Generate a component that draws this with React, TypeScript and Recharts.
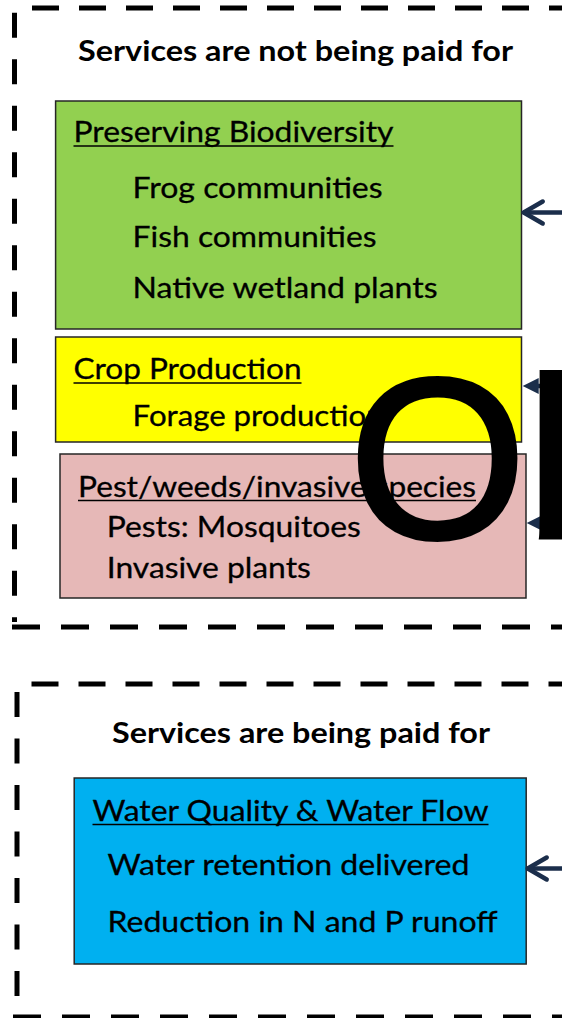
import { ComposedChart, XAxis, YAxis, ReferenceArea, ReferenceLine, Scatter } from "recharts";

const W = 562;
const H = 1018;

// ---- content ----
const groupTitles = ["Services are not being paid for", "Services are being paid for"];
const boxHeadings = [
  "Preserving Biodiversity",
  "Crop Production",
  "Pest/weeds/invasive species",
  "Water Quality & Water Flow",
];
const boxItems = [
  ["Frog communities", "Fish communities", "Native wetland plants"],
  ["Forage production"],
  ["Pests: Mosquitoes", "Invasive plants"],
  ["Water retention delivered", "Reduction in N and P runoff"],
];
const boxColors = ["#92D050", "#FFFF00", "#E6B8B7", "#00B0F0"];
const arrowKinds = ["chevron", "triangle", "triangle", "chevron"];
const overlayText = "Ob";

// ---- layout (pixel space of the hidden axes) ----
const groupLayout = [
  { left: 14.5, top: 8, bottom: 627, topStart: 32, bottomStart: 12, leftStart: 12.7, leftEnd: 622, title: { x: 78, y: 61, w: 435 } },
  { left: 17, top: 684, bottom: 1017, topStart: 31.5, bottomStart: 13, leftStart: 692, leftEnd: 1000, title: { x: 112, y: 743, w: 378 } },
];

const boxLayout = [
  { x1: 55.6, x2: 521.5, y1: 101, y2: 329, head: { x: 73.5, y: 142, w: 320 }, ix: 132.6, iy: [198, 247, 297.5], iw: [250, 244, 305], arrow: { x: 522.7, y: 212.5 } },
  { x1: 55.6, x2: 521.5, y1: 337, y2: 442, head: { x: 73.5, y: 379, w: 228 }, ix: 132.6, iy: [426], iw: [251], arrow: { x: 522.7, y: 386 } },
  { x1: 60, x2: 526, y1: 454, y2: 598, head: { x: 78, y: 496.5, w: 398 }, ix: 106.8, iy: [536.5, 578], iw: [254, 204], arrow: { x: 526.7, y: 523 } },
  { x1: 74.2, x2: 526.2, y1: 778, y2: 964, head: { x: 92.5, y: 820.5, w: 396 }, ix: 107.5, iy: [875, 931.5], iw: [362, 390], arrow: { x: 526.7, y: 868.5 } },
];

const BODY_FONT = "Lato, 'Open Sans', sans-serif";
const NAVY = "#1B2E4B";

type Label = { x: number; y: number; text: string; w: number; size: number; bold?: boolean; underline?: boolean };

const labels: Label[] = [];
groupTitles.forEach((t, i) => {
  const g = groupLayout[i].title;
  labels.push({ x: g.x, y: g.y, text: t, w: g.w, size: 29, bold: true });
});
boxHeadings.forEach((h, i) => {
  const b = boxLayout[i];
  labels.push({ x: b.head.x, y: b.head.y, text: h, w: b.head.w, size: 29, underline: true });
  boxItems[i].forEach((it, j) => {
    labels.push({ x: b.ix, y: b.iy[j], text: it, w: b.iw[j], size: 29 });
  });
});

const arrows = arrowKinds.map((k, i) => ({ x: boxLayout[i].arrow.x, y: boxLayout[i].arrow.y, kind: k }));
const overlay = [{ x: 349, y: 538, text: overlayText }];

function LabelShape(props: any) {
  const { cx, cy, payload } = props;
  return (
    <g>
      <text
        x={cx}
        y={cy}
        textLength={payload.w}
        lengthAdjust="spacingAndGlyphs"
        fontFamily={BODY_FONT}
        fontSize={payload.size}
        fontWeight={payload.bold ? 700 : 400}
        fill="#000"
        stroke="#000"
        strokeWidth={payload.bold ? 0 : 0.3}
      >
        {payload.text}
      </text>
      {payload.underline && (
        <line x1={cx} x2={cx + payload.w} y1={cy + 4} y2={cy + 4} stroke="#000" strokeWidth={1.6} />
      )}
    </g>
  );
}

function ArrowShape(props: any) {
  const { cx, cy, payload } = props;
  if (payload.kind === "chevron") {
    return (
      <g stroke={NAVY} strokeWidth={4.5} strokeLinecap="round" strokeLinejoin="round" fill="none">
        <line x1={cx + 2} y1={cy} x2={W + 10} y2={cy} />
        <polyline points={`${cx + 20},${cy - 11} ${cx + 1},${cy} ${cx + 20},${cy + 11}`} />
      </g>
    );
  }
  return (
    <g>
      <line x1={cx + 10} y1={cy} x2={W + 10} y2={cy} stroke={NAVY} strokeWidth={4.5} />
      <polygon points={`${cx},${cy} ${cx + 16},${cy - 8} ${cx + 16},${cy + 8}`} fill={NAVY} />
    </g>
  );
}

function OverlayShape(props: any) {
  const { cx, cy, payload } = props;
  return (
    <text
      x={cx}
      y={cy}
      fontFamily="'Liberation Sans', Arial, sans-serif"
      fontSize={228}
      fill="#000"
      stroke="#000"
      strokeWidth={4}
    >
      {payload.text}
    </text>
  );
}

export default function App() {
  return (
    <div style={{ width: W, height: H, background: "#fff" }}>
      <style>{`body{margin:0}`}</style>
      <ComposedChart width={W} height={H} margin={{ top: 0, right: 0, bottom: 0, left: 0 }}>
        <XAxis type="number" dataKey="x" domain={[0, W]} allowDataOverflow hide />
        <YAxis type="number" dataKey="y" domain={[0, H]} reversed allowDataOverflow hide />

        {groupLayout.map((g, i) => (
          <ReferenceLine
            key={`t${i}`}
            segment={[{ x: g.topStart, y: g.top }, { x: W, y: g.top }]}
            stroke="#000"
            strokeWidth={5}
            strokeDasharray="27 20"
            ifOverflow="visible"
          />
        ))}
        {groupLayout.map((g, i) => (
          <ReferenceLine
            key={`b${i}`}
            segment={[{ x: g.bottomStart, y: g.bottom }, { x: W, y: g.bottom }]}
            stroke="#000"
            strokeWidth={5}
            strokeDasharray="28 21"
            ifOverflow="visible"
          />
        ))}
        {groupLayout.map((g, i) => (
          <ReferenceLine
            key={`l${i}`}
            segment={[{ x: g.left, y: g.leftStart }, { x: g.left, y: g.leftEnd }]}
            stroke="#000"
            strokeWidth={5}
            strokeDasharray="25 21.5"
            ifOverflow="visible"
          />
        ))}

        {boxLayout.map((b, i) => (
          <ReferenceArea
            key={`box${i}`}
            x1={b.x1}
            x2={b.x2}
            y1={b.y1}
            y2={b.y2}
            fill={boxColors[i]}
            fillOpacity={1}
            stroke="#262626"
            strokeWidth={1.5}
            ifOverflow="visible"
          />
        ))}

        <Scatter data={labels} dataKey="y" shape={LabelShape} isAnimationActive={false} />
        <Scatter data={arrows} dataKey="y" shape={ArrowShape} isAnimationActive={false} />
        <Scatter data={overlay} dataKey="y" shape={OverlayShape} isAnimationActive={false} />
      </ComposedChart>
    </div>
  );
}
